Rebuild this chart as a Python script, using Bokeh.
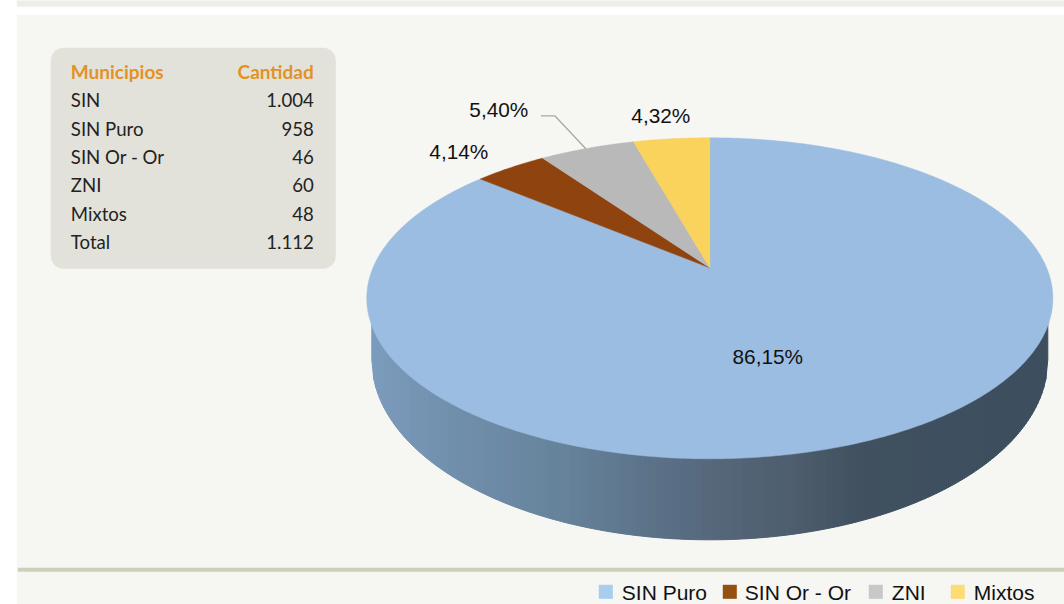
import numpy as np
from bokeh.plotting import figure
from bokeh.models import Range1d
from bokeh.core.properties import value
from bokeh.embed import file_html
from bokeh.resources import INLINE

# ---- data
categories = ["SIN Puro", "SIN Or - Or", "ZNI", "Mixtos"]
percent = [86.15, 4.14, 5.40, 4.32]
percent_labels = ["86,15%", "4,14%", "5,40%", "4,32%"]
table_names = ["SIN", "SIN Puro", "SIN Or - Or", "ZNI", "Mixtos", "Total"]
table_counts = ["1.004", "958", "46", "60", "48", "1.112"]
table_header = ["Municipios", "Cantidad"]

# ---- styles
top_colors = ["#9bbde2", "#8f4410", "#b9b9b9", "#fad35c"]
legend_colors = ["#a9cdec", "#94500f", "#c8c8c8", "#fddb75"]
grad_x = [367, 450, 560, 640, 720, 800, 860, 1053]
grad_rgb = [(124, 156, 190), (113, 143, 172), (102, 131, 155), (92, 116, 138),
            (85, 102, 121), (76, 92, 108), (64, 80, 95), (60, 78, 94)]

WIDTH, HEIGHT = 1064, 604
OFF = 0.7
p = figure(width=WIDTH, height=HEIGHT, output_backend="svg", toolbar_location=None,
           x_axis_type=None, y_axis_type=None, x_range=Range1d(OFF, WIDTH + OFF),
           y_range=Range1d(HEIGHT + OFF, OFF), min_border=0, outline_line_color=None,
           background_fill_color="#ffffff", border_fill_color="#ffffff")
p.grid.visible = False

# panel, strip above it and divider
p.quad(left=17, right=1066, top=0, bottom=7, fill_color="#eeeee8", line_color=None)
p.quad(left=17, right=1066, top=15, bottom=606, fill_color="#f6f6f2", line_color=None)
p.quad(left=18, right=1066, top=568, bottom=572, fill_color="#cdd0b8", line_color=None)

# table box with rounded corners
def rounded(x0, y0, x1, y1, r):
    t = np.linspace(0, np.pi / 2, 10)
    xs = np.concatenate([x0 + r - r * np.cos(t), x1 - r + r * np.sin(t),
                         x1 - r + r * np.cos(t), x0 + r - r * np.sin(t)])
    ys = np.concatenate([y0 + r - r * np.sin(t), y0 + r - r * np.cos(t),
                         y1 - r + r * np.sin(t), y1 - r + r * np.cos(t)])
    return xs, ys

bx, by = rounded(51, 48, 336, 269, 13)
p.patch(bx, by, fill_color="#e2e2da", line_color=None)

lato = value("Lato")
p.text([71], [72], text=[table_header[0]], text_font=lato, text_font_style="bold",
       text_font_size="19px", text_color="#e39226", text_baseline="middle")
p.text([314], [72], text=[table_header[1]], text_font=lato, text_font_style="bold",
       text_font_size="19px", text_color="#e39226", text_baseline="middle", text_align="right")
row_y = [100, 129, 157, 185, 214, 242]
p.text([71] * 6, row_y, text=table_names, text_font=lato, text_font_size="18.6px",
       text_color="#222222", text_baseline="middle")
p.text([314] * 6, row_y, text=table_counts, text_font=lato, text_font_size="18.6px",
       text_color="#222222", text_baseline="middle", text_align="right")

# perspective disc
CX, CY, A, B, K = 710.0, 268.0, 336.8, 154.7, 0.19

def project(theta):
    u, v = np.sin(theta), np.cos(theta)
    d = 1 + K * v
    return CX + A * u / d, CY - B * v / d

# side wall in thin vertical strips, shaded left to right
LOW_CY, LOW_RX, LOW_RY = 360.0, 338.0, 180.0
edges = np.arange(CX - LOW_RX, CX + LOW_RX, 2.0)
strip_xs, strip_ys, strip_cols = [], [], []
for x0 in edges:
    x1 = min(x0 + 2.0, CX + LOW_RX)
    y0 = LOW_CY + LOW_RY * np.sqrt(max(0, 1 - ((x0 - CX) / LOW_RX) ** 2))
    y1 = LOW_CY + LOW_RY * np.sqrt(max(0, 1 - ((x1 - CX) / LOW_RX) ** 2))
    strip_xs.append([x0, x1, x1, x0])
    strip_ys.append([300, 300, y1, y0])
    c = [np.interp(x0, grad_x, [g[i] for g in grad_rgb]) for i in range(3)]
    strip_cols.append("#%02x%02x%02x" % tuple(int(round(v)) for v in c))
p.patches(strip_xs, strip_ys, fill_color=strip_cols, line_color=strip_cols, line_width=1)

# top face slices, clockwise from twelve o'clock
fractions = np.array(percent) / sum(percent)
bounds = np.concatenate([[0], np.cumsum(fractions)]) * 2 * np.pi
xs, ys = [], []
for a0, a1 in zip(bounds[:-1], bounds[1:]):
    th = np.linspace(a0, a1, max(8, int((a1 - a0) * 80)))
    ex, ey = project(th)
    xs.append(np.concatenate([[CX], ex]).tolist())
    ys.append(np.concatenate([[CY], ey]).tolist())
p.patches(xs, ys, fill_color=top_colors, line_color=top_colors, line_width=0.5)

# data labels
arial = value("Liberation Sans")
p.text([768, 459, 499, 661], [357, 152, 110, 116], text=percent_labels, text_font=arial,
       text_font_size="20.8px", text_color="#111111", text_align="center", text_baseline="middle")
p.line([541, 555, 586], [116, 116, 149], line_color="#a8a8a8", line_width=1.3)

# legend
p.quad(left=[599, 723, 869, 951], right=[613, 737, 883, 965], top=[585] * 4, bottom=[599] * 4,
       fill_color=legend_colors, line_color=None)
p.text([622, 745, 892, 974], [593] * 4, text=categories, text_font=arial, text_font_size="21px",
       text_color="#111111", text_baseline="middle")

open("out.html", "w").write(file_html(p, INLINE))
